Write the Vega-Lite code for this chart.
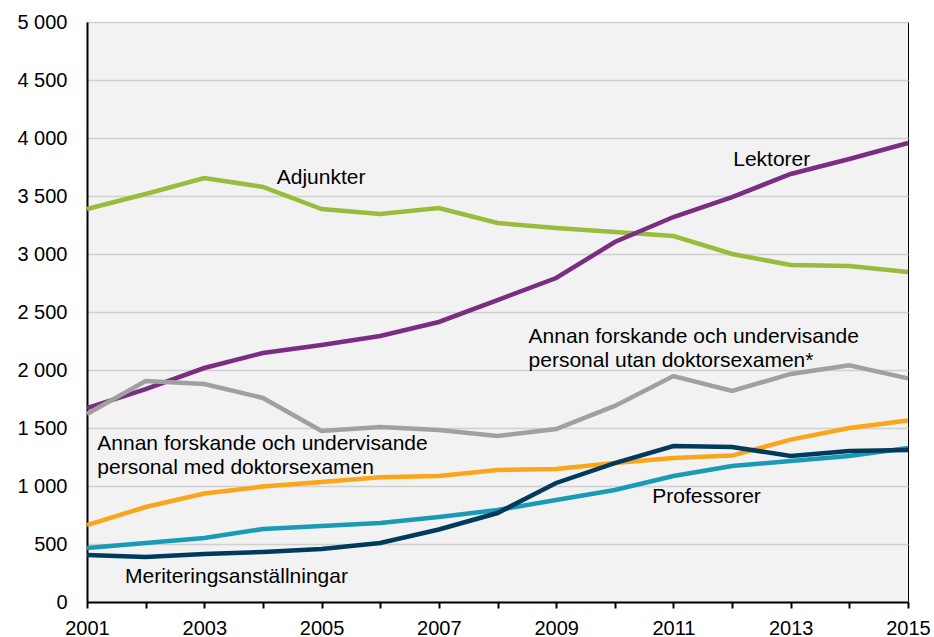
{
  "$schema": "https://vega.github.io/schema/vega-lite/v6.json",
  "autosize": {"type": "none"},
  "width": 821,
  "height": 580,
  "padding": {"left": 87, "top": 22, "right": 26, "bottom": 35},
  "background": "#ffffff",
  "config": {
    "font": "Liberation Sans",
    "view": {"fill": "#f2f2f2", "stroke": "#000000", "strokeWidth": 1}
  },
  "datasets": {
    "series": [
      {"year": 2001, "group": "Adjunkter", "value": 3388},
      {"year": 2002, "group": "Adjunkter", "value": 3517},
      {"year": 2003, "group": "Adjunkter", "value": 3655},
      {"year": 2004, "group": "Adjunkter", "value": 3578},
      {"year": 2005, "group": "Adjunkter", "value": 3388},
      {"year": 2006, "group": "Adjunkter", "value": 3345},
      {"year": 2007, "group": "Adjunkter", "value": 3397},
      {"year": 2008, "group": "Adjunkter", "value": 3267},
      {"year": 2009, "group": "Adjunkter", "value": 3224},
      {"year": 2010, "group": "Adjunkter", "value": 3190},
      {"year": 2011, "group": "Adjunkter", "value": 3155},
      {"year": 2012, "group": "Adjunkter", "value": 3000},
      {"year": 2013, "group": "Adjunkter", "value": 2905},
      {"year": 2014, "group": "Adjunkter", "value": 2897},
      {"year": 2015, "group": "Adjunkter", "value": 2845},
      {"year": 2001, "group": "Lektorer", "value": 1672},
      {"year": 2002, "group": "Lektorer", "value": 1836},
      {"year": 2003, "group": "Lektorer", "value": 2017},
      {"year": 2004, "group": "Lektorer", "value": 2147},
      {"year": 2005, "group": "Lektorer", "value": 2216},
      {"year": 2006, "group": "Lektorer", "value": 2293},
      {"year": 2007, "group": "Lektorer", "value": 2414},
      {"year": 2008, "group": "Lektorer", "value": 2603},
      {"year": 2009, "group": "Lektorer", "value": 2793},
      {"year": 2010, "group": "Lektorer", "value": 3103},
      {"year": 2011, "group": "Lektorer", "value": 3319},
      {"year": 2012, "group": "Lektorer", "value": 3491},
      {"year": 2013, "group": "Lektorer", "value": 3690},
      {"year": 2014, "group": "Lektorer", "value": 3819},
      {"year": 2015, "group": "Lektorer", "value": 3957},
      {"year": 2001, "group": "Utan", "value": 1621},
      {"year": 2002, "group": "Utan", "value": 1905},
      {"year": 2003, "group": "Utan", "value": 1879},
      {"year": 2004, "group": "Utan", "value": 1759},
      {"year": 2005, "group": "Utan", "value": 1474},
      {"year": 2006, "group": "Utan", "value": 1509},
      {"year": 2007, "group": "Utan", "value": 1483},
      {"year": 2008, "group": "Utan", "value": 1431},
      {"year": 2009, "group": "Utan", "value": 1491},
      {"year": 2010, "group": "Utan", "value": 1690},
      {"year": 2011, "group": "Utan", "value": 1948},
      {"year": 2012, "group": "Utan", "value": 1819},
      {"year": 2013, "group": "Utan", "value": 1966},
      {"year": 2014, "group": "Utan", "value": 2040},
      {"year": 2015, "group": "Utan", "value": 1928},
      {"year": 2001, "group": "Med", "value": 662},
      {"year": 2002, "group": "Med", "value": 819},
      {"year": 2003, "group": "Med", "value": 935},
      {"year": 2004, "group": "Med", "value": 995},
      {"year": 2005, "group": "Med", "value": 1034},
      {"year": 2006, "group": "Med", "value": 1075},
      {"year": 2007, "group": "Med", "value": 1086},
      {"year": 2008, "group": "Med", "value": 1138},
      {"year": 2009, "group": "Med", "value": 1147},
      {"year": 2010, "group": "Med", "value": 1198},
      {"year": 2011, "group": "Med", "value": 1241},
      {"year": 2012, "group": "Med", "value": 1262},
      {"year": 2013, "group": "Med", "value": 1400},
      {"year": 2014, "group": "Med", "value": 1500},
      {"year": 2015, "group": "Med", "value": 1565},
      {"year": 2001, "group": "Professorer", "value": 466},
      {"year": 2002, "group": "Professorer", "value": 509},
      {"year": 2003, "group": "Professorer", "value": 552},
      {"year": 2004, "group": "Professorer", "value": 629},
      {"year": 2005, "group": "Professorer", "value": 655},
      {"year": 2006, "group": "Professorer", "value": 681},
      {"year": 2007, "group": "Professorer", "value": 733},
      {"year": 2008, "group": "Professorer", "value": 793},
      {"year": 2009, "group": "Professorer", "value": 879},
      {"year": 2010, "group": "Professorer", "value": 966},
      {"year": 2011, "group": "Professorer", "value": 1086},
      {"year": 2012, "group": "Professorer", "value": 1172},
      {"year": 2013, "group": "Professorer", "value": 1216},
      {"year": 2014, "group": "Professorer", "value": 1259},
      {"year": 2015, "group": "Professorer", "value": 1328},
      {"year": 2001, "group": "Meritering", "value": 405},
      {"year": 2002, "group": "Meritering", "value": 388},
      {"year": 2003, "group": "Meritering", "value": 414},
      {"year": 2004, "group": "Meritering", "value": 431},
      {"year": 2005, "group": "Meritering", "value": 457},
      {"year": 2006, "group": "Meritering", "value": 509},
      {"year": 2007, "group": "Meritering", "value": 625},
      {"year": 2008, "group": "Meritering", "value": 767},
      {"year": 2009, "group": "Meritering", "value": 1026},
      {"year": 2010, "group": "Meritering", "value": 1198},
      {"year": 2011, "group": "Meritering", "value": 1345},
      {"year": 2012, "group": "Meritering", "value": 1336},
      {"year": 2013, "group": "Meritering", "value": 1259},
      {"year": 2014, "group": "Meritering", "value": 1302},
      {"year": 2015, "group": "Meritering", "value": 1310}
    ],
    "labels": [
      {"year": 2004.235, "value": 3601, "text": ["Adjunkter"]},
      {"year": 2012.02, "value": 3759, "text": ["Lektorer"]},
      {"year": 2008.53, "value": 2230, "text": ["Annan forskande och undervisande", "personal utan doktorsexamen*"]},
      {"year": 2001.176, "value": 1310, "text": ["Annan forskande och undervisande", "personal med doktorsexamen"]},
      {"year": 2010.64, "value": 851, "text": ["Professorer"]},
      {"year": 2001.648, "value": 167, "text": ["Meriteringsanställningar"]}
    ]
  },
  "encoding": {
    "x": {
      "field": "year",
      "type": "quantitative",
      "scale": {"domain": [2001, 2015], "nice": false, "zero": false},
      "axis": {
        "title": null,
        "values": [2001, 2002, 2003, 2004, 2005, 2006, 2007, 2008, 2009, 2010, 2011, 2012, 2013, 2014, 2015],
        "format": "d",
        "labelExpr": "datum.value % 2 == 1 ? datum.label : ''",
        "grid": false,
        "domainColor": "#000000",
        "domainWidth": 2,
        "tickColor": "#000000",
        "tickWidth": 2,
        "tickSize": 6,
        "labelFontSize": 20,
        "labelColor": "#000000",
        "labelPadding": 10,
        "labelFlush": false,
        "labelBound": false,
        "labelOverlap": false
      }
    },
    "y": {
      "field": "value",
      "type": "quantitative",
      "scale": {"domain": [0, 5000], "nice": false},
      "axis": {
        "title": null,
        "values": [0, 500, 1000, 1500, 2000, 2500, 3000, 3500, 4000, 4500, 5000],
        "labelExpr": "replace(format(datum.value, ',d'), ',', ' ')",
        "ticks": false,
        "grid": true,
        "gridColor": "#d0d0d0",
        "gridWidth": 1.5,
        "domainColor": "#000000",
        "domainWidth": 2,
        "labelFontSize": 20,
        "labelColor": "#000000",
        "labelPadding": 20
      }
    }
  },
  "layer": [
    {
      "data": {"name": "series"},
      "mark": {"type": "line", "strokeWidth": 4.5, "strokeJoin": "miter"},
      "encoding": {
        "color": {
          "field": "group",
          "type": "nominal",
          "scale": {
            "domain": ["Adjunkter", "Lektorer", "Utan", "Med", "Professorer", "Meritering"],
            "range": ["#9bbb3c", "#7b2d84", "#a0a0a0", "#f9a61a", "#1a9bb5", "#003a5d"]
          },
          "legend": null
        }
      }
    },
    {
      "data": {"name": "labels"},
      "mark": {"type": "text", "align": "left", "baseline": "alphabetic", "fontSize": 21, "lineHeight": 24, "color": "#000000"},
      "encoding": {
        "text": {"field": "text"}
      }
    }
  ]
}
